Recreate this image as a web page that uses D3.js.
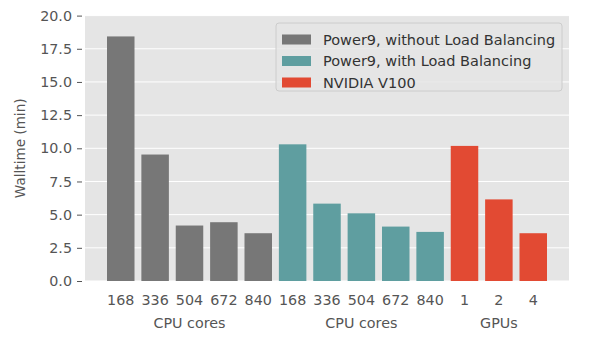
<!DOCTYPE html>
<html>
<head>
<meta charset="utf-8">
<script src="https://cdn.jsdelivr.net/npm/d3@7"></script>
<style>
  body { margin: 0; background: #fff; }
  svg { display: block; font-family: 'DejaVu Sans', sans-serif; }
</style>
</head>
<body>
<div id="chart"></div>
<script>
// bar labels along the x axis
const categories = ['168', '336', '504', '672', '840', '168', '336', '504', '672', '840', '1', '2', '4'];
// series index for every bar
const seriesOf = [0, 0, 0, 0, 0, 1, 1, 1, 1, 1, 2, 2, 2];
const walltime = [18.43, 9.53, 4.18, 4.43, 3.6, 10.3, 5.83, 5.1, 4.1, 3.7, 10.18, 6.15, 3.6];
const seriesNames = ['Power9, without Load Balancing', 'Power9, with Load Balancing', 'NVIDIA V100'];
const seriesColors = ['#777777', '#5f9ea0', '#e24a33'];
// group captions under the tick labels, centred on a bar index
const groupLabels = ['CPU cores', 'CPU cores', 'GPUs'];
const groupAt = [2, 7, 11];
const yTicks = [0, 2.5, 5, 7.5, 10, 12.5, 15, 17.5, 20];

const width = 600, height = 344;
const plot = { left: 85, right: 569, top: 15.6, bottom: 281 };

const svg = d3.select('#chart').append('svg')
  .attr('width', width)
  .attr('height', height);

const x = d3.scaleBand()
  .domain(d3.range(categories.length))
  .range([plot.left, plot.right])
  .paddingInner(0.2)
  .paddingOuter(0.64);

const y = d3.scaleLinear()
  .domain([0, 20])
  .range([plot.bottom, plot.top]);

// panel background
svg.append('rect')
  .attr('x', plot.left)
  .attr('y', plot.top)
  .attr('width', plot.right - plot.left)
  .attr('height', plot.bottom - plot.top)
  .attr('fill', '#e5e5e5');

// grid
svg.append('g')
  .selectAll('line')
  .data(yTicks)
  .join('line')
  .attr('x1', plot.left)
  .attr('x2', plot.right)
  .attr('y1', d => y(d))
  .attr('y2', d => y(d))
  .attr('stroke', '#fff')
  .attr('stroke-width', 1);

// bars
svg.append('g')
  .selectAll('rect')
  .data(walltime)
  .join('rect')
  .attr('x', (d, i) => x(i))
  .attr('width', x.bandwidth())
  .attr('y', d => y(d))
  .attr('height', d => y(0) - y(d))
  .attr('fill', (d, i) => seriesColors[seriesOf[i]]);

// y axis
const yAxis = svg.append('g')
  .attr('transform', `translate(${plot.left - 3},0)`)
  .call(d3.axisLeft(y).tickValues(yTicks).tickFormat(d3.format('.1f')).tickSize(5).tickPadding(5));
yAxis.select('.domain').remove();
yAxis.selectAll('line').attr('stroke', '#555');
yAxis.selectAll('text')
  .attr('fill', '#555')
  .style('font-size', '14.3px')
  .style('font-family', 'DejaVu Sans');

// x axis labels
const xAxis = svg.append('g')
  .attr('transform', `translate(0,${plot.bottom})`)
  .call(d3.axisBottom(x).tickFormat(i => categories[i]).tickSize(0).tickPadding(14));
xAxis.select('.domain').remove();
xAxis.selectAll('text')
  .attr('fill', '#555')
  .style('font-size', '14.3px')
  .style('font-family', 'DejaVu Sans');

// group captions
svg.append('g')
  .selectAll('text')
  .data(groupLabels)
  .join('text')
  .attr('x', (d, i) => x(groupAt[i]) + x.bandwidth() / 2)
  .attr('y', 328)
  .attr('text-anchor', 'middle')
  .attr('fill', '#555')
  .style('font-size', '14.3px')
  .text(d => d);

// y label
svg.append('text')
  .attr('transform', `translate(25,${(plot.top + plot.bottom) / 2}) rotate(-90)`)
  .attr('text-anchor', 'middle')
  .attr('fill', '#555')
  .style('font-size', '13.6px')
  .text('Walltime (min)');

// legend
const legend = svg.append('g').attr('transform', 'translate(276,23)');
legend.append('rect')
  .attr('width', 286)
  .attr('height', 68)
  .attr('rx', 3)
  .attr('fill', '#e5e5e5')
  .attr('fill-opacity', 0.8)
  .attr('stroke', '#cccccc')
  .attr('stroke-width', 1);

seriesNames.forEach((name, i) => {
  const row = legend.append('g')
    .attr('transform', `translate(6, ${11.5 + i * 21.5})`);
  row.append('rect')
    .attr('width', 29)
    .attr('height', 10)
    .attr('y', 0)
    .attr('fill', seriesColors[i]);
  row.append('text')
    .attr('x', 41)
    .attr('y', 5)
    .attr('dy', '0.36em')
    .attr('fill', '#333')
    .style('font-size', '14.5px')
    .text(name);
});
</script>
</body>
</html>
